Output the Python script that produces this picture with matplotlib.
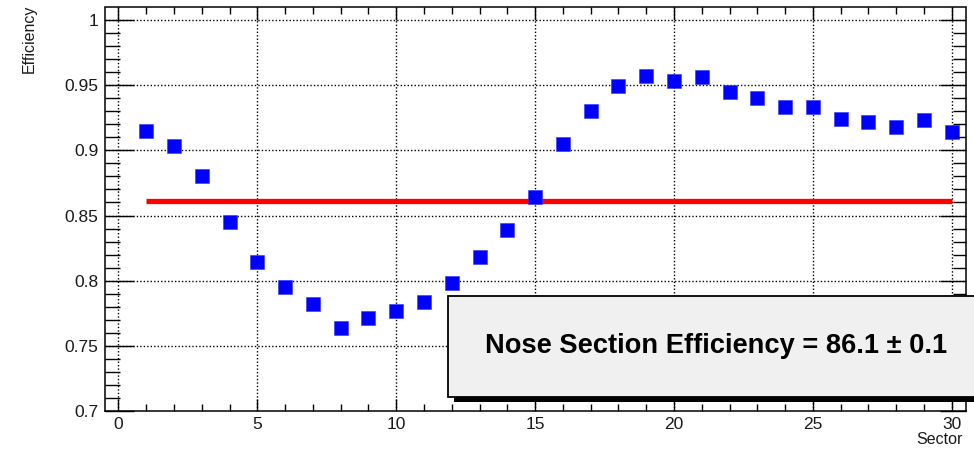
import matplotlib
matplotlib.use("Agg")
import matplotlib.pyplot as plt
from matplotlib.patches import Rectangle
from matplotlib.ticker import MultipleLocator
import numpy as np

plt.rcParams['font.family'] = ['Liberation Sans', 'DejaVu Sans']

# ---- data ----
sectors = list(range(1, 31))
efficiency = [0.915, 0.903, 0.880, 0.845, 0.814, 0.795, 0.782, 0.764, 0.771, 0.777,
              0.784, 0.798, 0.818, 0.839, 0.864, 0.905, 0.930, 0.949, 0.957, 0.953,
              0.956, 0.945, 0.940, 0.933, 0.933, 0.924, 0.922, 0.918, 0.923, 0.914]
mean_eff = 0.861
x_label = "Sector"
y_label = "Efficiency"
box_text = "Nose Section Efficiency = 86.1 \u00b1 0.1"

W, H = 974, 449
fig = plt.figure(figsize=(W / 100, H / 100), dpi=100)
L, R, T, B = 104.5, 965.7, 7.5, 411.0
ax = fig.add_axes([L / W, 1 - B / H, (R - L) / W, (B - T) / H])

ax.set_xlim(-0.5, 30.5)
ax.set_ylim(0.7, 1.0096)

# grid
dot = (0, (1.0, 1.5))
for gx in range(0, 31, 5):
    ax.axvline(gx, color='black', lw=1.0, ls=dot, zorder=1)
for gy in [0.75, 0.8, 0.85, 0.9, 0.95, 1.0]:
    ax.axhline(gy, color='black', lw=1.0, ls=dot, zorder=1)

# mean line
ax.plot([sectors[0], sectors[-1]], [mean_eff, mean_eff], color='#ff0000', lw=3.8,
        solid_capstyle='butt', zorder=2)

# points
ax.plot(sectors, efficiency, ls='none', marker='s', markersize=9.6,
        markerfacecolor='#0000ff', markeredgecolor='#3333ff', markeredgewidth=0.4, zorder=3)

for s in ax.spines.values():
    s.set_linewidth(1.1)
    s.set_color('black')

ax.xaxis.set_major_locator(MultipleLocator(5))
ax.xaxis.set_minor_locator(MultipleLocator(1))
ax.yaxis.set_major_locator(MultipleLocator(0.05))
ax.yaxis.set_minor_locator(MultipleLocator(0.01))
ax.xaxis.set_major_formatter(matplotlib.ticker.FuncFormatter(lambda v, p: f"{v:g}"))
ax.yaxis.set_major_formatter(matplotlib.ticker.FuncFormatter(lambda v, p: f"{round(v, 3):g}"))

ax.tick_params(axis='x', which='both', direction='in', top=True, bottom=True,
               labelsize=12.5, pad=4.5, width=1.0, colors='black')
ax.tick_params(axis='x', which='major', length=9)
ax.tick_params(axis='x', which='minor', length=4.7)
ax.tick_params(axis='y', which='both', direction='in', left=True, right=False,
               labelsize=12.5, pad=4.5, width=1.0)
ax.tick_params(axis='y', which='major', length=21)
ax.tick_params(axis='y', which='minor', length=10.8)

ax2 = ax.twinx()
ax2.set_ylim(ax.get_ylim())
ax2.yaxis.set_major_locator(MultipleLocator(0.05))
ax2.yaxis.set_minor_locator(MultipleLocator(0.01))
ax2.tick_params(axis='y', which='both', direction='in', right=True, labelright=False, width=1.0)
ax2.tick_params(axis='y', which='major', length=19)
ax2.tick_params(axis='y', which='minor', length=9.5)
for s in ax2.spines.values():
    s.set_visible(False)

for lbl in ax.get_xticklabels() + ax.get_yticklabels():
    lbl.set_color('#1a1a1a')

# axis titles
fig.text(29 / W, 1 - 5 / H, y_label, rotation=90, ha='center', va='top', fontsize=11.5, color='#1a1a1a')
fig.text(963 / W, 1 - 440 / H, x_label, ha='right', va='center', fontsize=11.5, color='#1a1a1a')

# text box with shadow
bx0, by0, by1 = 447.7, 397.3, 295.7
shadow = Rectangle(((bx0 + 6) / W, 1 - (by0 + 4.4) / H), 1.0, (by0 - by1) / H,
                   transform=fig.transFigure, facecolor='black', edgecolor='none', zorder=10)
box = Rectangle((bx0 / W, 1 - by0 / H), 1.0, (by0 - by1) / H,
                transform=fig.transFigure, facecolor='#f0f0f0', edgecolor='black',
                linewidth=1.3, zorder=11)
fig.add_artist(shadow)
fig.add_artist(box)
fig.text(485 / W, 1 - 353.3 / H, box_text, ha='left', va='baseline', fontsize=19.6,
         fontweight='bold', color='black', zorder=12)

fig.savefig("out.png", dpi=100)
